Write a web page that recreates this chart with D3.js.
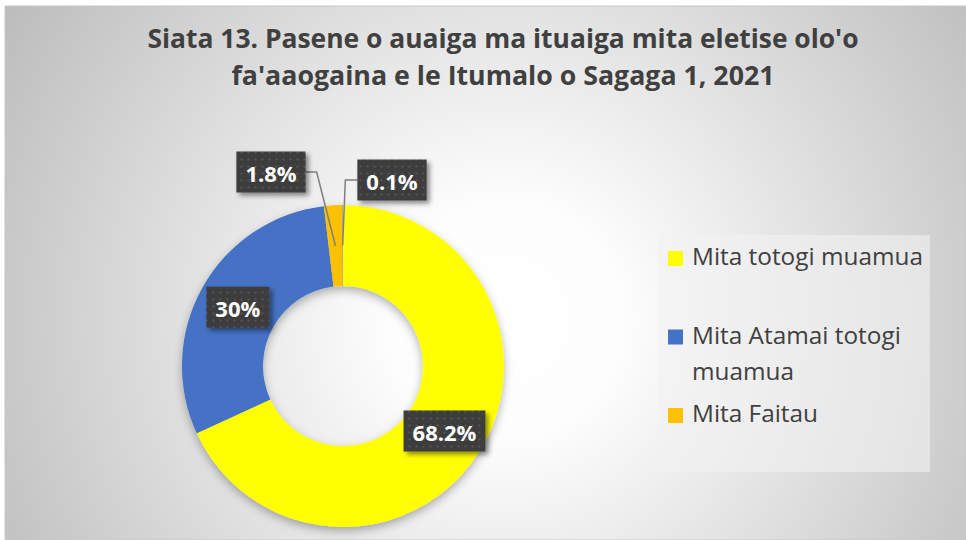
<!DOCTYPE html>
<html>
<head>
<meta charset="utf-8">
<script src="https://cdn.jsdelivr.net/npm/d3@7"></script>
<style>
  body { margin: 0; background: #ffffff; }
  svg { display: block; }
</style>
</head>
<body>
<div id="container"></div>
<script>
// ---------------------------- DATA ----------------------------
var titleLines = ["Siata 13. Pasene o auaiga ma ituaiga mita eletise olo'o",
                  "fa'aaogaina e le Itumalo o Sagaga 1, 2021"];
var categories = ["Mita totogi muamua", "Mita Atamai totogi muamua", "Mita Faitau", ""];
var values = [68.2, 30, 1.8, 0.1];
var labels = ["68.2%", "30%", "1.8%", "0.1%"];
var colors = ["#FFFF00", "#4472C4", "#FFC000", "#A5A5A5"];

// ---------------------------- LAYOUT ----------------------------
var width = 966, height = 540;
var cx = 343, cy = 366;
var outerR = 161, innerR = 80;
// small slices get their labels pulled out (offset from donut centre) with leader lines
var outsideLabels = { 2: { dx: -72, dy: -194, side: "right" }, 3: { dx: 49, dy: -186, side: "left" } };

var svg = d3.select("#container").append("svg")
    .attr("width", width)
    .attr("height", height);

var defs = svg.append("defs");

var bg = defs.append("radialGradient")
    .attr("id", "bg")
    .attr("gradientUnits", "userSpaceOnUse")
    .attr("cx", 505).attr("cy", 320).attr("r", 590);
bg.append("stop").attr("offset", 0).attr("stop-color", "#ffffff");
bg.append("stop").attr("offset", 0.2).attr("stop-color", "#fdfdfd");
bg.append("stop").attr("offset", 1).attr("stop-color", "#bcbcbc");

var pat = defs.append("pattern")
    .attr("id", "dots")
    .attr("patternUnits", "userSpaceOnUse")
    .attr("width", 7).attr("height", 7);
pat.append("rect").attr("width", 7).attr("height", 7).attr("fill", "#3d3d3d");
pat.append("circle").attr("cx", 3.5).attr("cy", 3.5).attr("r", 1.1).attr("fill", "#585858");

var ringShadow = defs.append("filter").attr("id", "ringShadow")
    .attr("x", "-20%").attr("y", "-20%").attr("width", "140%").attr("height", "140%");
ringShadow.append("feDropShadow")
    .attr("dx", 0).attr("dy", 4).attr("stdDeviation", 5)
    .attr("flood-color", "#000").attr("flood-opacity", 0.3);

var boxShadow = defs.append("filter").attr("id", "boxShadow")
    .attr("x", "-20%").attr("y", "-20%").attr("width", "150%").attr("height", "150%");
boxShadow.append("feDropShadow")
    .attr("dx", 3).attr("dy", 3).attr("stdDeviation", 2.5)
    .attr("flood-color", "#000").attr("flood-opacity", 0.45);

// ---------------------------- BACKGROUND ----------------------------
svg.append("rect")
    .attr("x", 5).attr("y", 6)
    .attr("width", width - 5).attr("height", height - 6)
    .attr("fill", "url(#bg)")
    .attr("stroke", "#c8c8c8")
    .attr("stroke-width", 1);

// ---------------------------- TITLE ----------------------------
var titleWidths = [711, 543];
svg.append("g").selectAll("text")
    .data(titleLines)
    .enter().append("text")
    .attr("x", 503)
    .attr("y", function (d, i) { return 48 + i * 37; })
    .attr("text-anchor", "middle")
    .attr("font-family", "'Open Sans', sans-serif")
    .attr("font-weight", "bold")
    .attr("font-size", 27)
    .attr("fill", "#404040")
    .attr("textLength", function (d, i) { return titleWidths[i]; })
    .attr("lengthAdjust", "spacingAndGlyphs")
    .text(function (d) { return d; });

// ---------------------------- DONUT ----------------------------
var pie = d3.pie().sort(null).value(function (d) { return d; });
var arcs = pie(values);
var arc = d3.arc().innerRadius(innerR).outerRadius(outerR);

var donut = svg.append("g")
    .attr("transform", "translate(" + cx + "," + cy + ")");

donut.append("g")
    .attr("filter", "url(#ringShadow)")
    .selectAll("path")
    .data(arcs)
    .enter().append("path")
    .attr("d", arc)
    .attr("fill", function (d, i) { return colors[i]; });

// ---------------------------- LABELS ----------------------------
var labelG = donut.append("g");
var boxH = 41, padX = 9;

arcs.forEach(function (d, i) {
    var c = arc.centroid(d);
    var out = outsideLabels[i];
    var lx = out ? out.dx : c[0];
    var ly = out ? out.dy : c[1];

    var g = labelG.append("g");
    var rect = g.append("rect").attr("fill", "url(#dots)").attr("filter", "url(#boxShadow)");
    var t = g.append("text")
        .attr("x", lx).attr("y", ly + 1)
        .attr("text-anchor", "middle")
        .attr("dominant-baseline", "central")
        .attr("font-family", "'Open Sans', sans-serif")
        .attr("font-weight", "bold")
        .attr("font-size", 22)
        .attr("fill", "#ffffff")
        .text(labels[i]);
    var w = t.node().getComputedTextLength() + padX * 2;
    rect.attr("x", lx - w / 2).attr("y", ly - boxH / 2)
        .attr("width", w).attr("height", boxH);

    if (out) {
        var ex = out.side === "right" ? lx + w / 2 : lx - w / 2;
        var kx = out.side === "right" ? ex + 11 : ex - 12;
        labelG.insert("path", ":first-child")
            .attr("d", "M" + ex + "," + ly + "L" + kx + "," + ly + "L" + c[0] + "," + c[1])
            .attr("fill", "none")
            .attr("stroke", "#7f7f7f")
            .attr("stroke-width", 1.5);
    }
});

// ---------------------------- LEGEND ----------------------------
var legend = svg.append("g");
legend.append("rect")
    .attr("x", 658).attr("y", 235)
    .attr("width", 272).attr("height", 237)
    .attr("fill", "#f2f2f2")
    .attr("opacity", 0.6);

var legendItems = categories.filter(function (c) { return c !== ""; });
var legendTop = 265, rowStep = 78.5, lineH = 36, maxW = 240, fontS = 23;
var legendScale = null;

legendItems.forEach(function (name, i) {
    var y = legendTop + i * rowStep;
    legend.append("rect")
        .attr("x", 668).attr("y", y - 14)
        .attr("width", 15).attr("height", 15)
        .attr("fill", colors[i]);

    var txt = legend.append("text")
        .attr("x", 692).attr("y", y)
        .attr("font-family", "'Open Sans', sans-serif")
        .attr("font-size", fontS)
        .attr("fill", "#404040");

    // calibrate horizontal scale from the first item (target width 231px)
    if (legendScale === null) {
        txt.text(name);
        legendScale = 231 / txt.node().getComputedTextLength();
        txt.text("");
    }

    var words = name.split(" "), lines = [], cur = "";
    words.forEach(function (wd) {
        var test = cur ? cur + " " + wd : wd;
        txt.text(test);
        if (txt.node().getComputedTextLength() * legendScale > maxW && cur) {
            lines.push(cur);
            cur = wd;
        } else {
            cur = test;
        }
    });
    lines.push(cur);
    txt.text("");

    lines.forEach(function (ln, j) {
        var ts = txt.append("tspan")
            .attr("x", 692)
            .attr("y", y + j * lineH)
            .text(ln);
        ts.attr("textLength", ts.node().getComputedTextLength() * legendScale)
          .attr("lengthAdjust", "spacingAndGlyphs");
    });
});
</script>
</body>
</html>
